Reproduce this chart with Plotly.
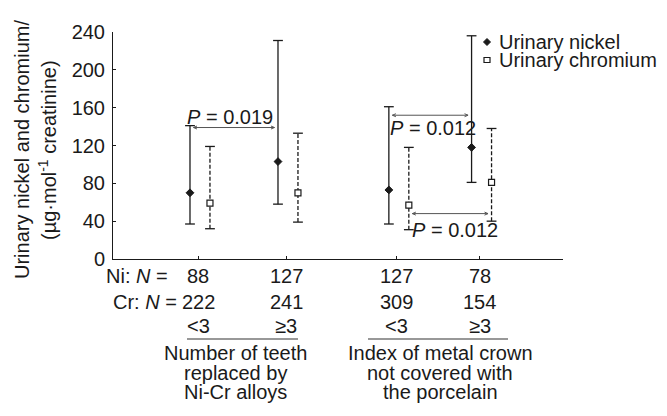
import plotly.graph_objects as go

# Group positions on the x axis (two groups of two categories)
positions = [1.0, 2.0, 3.26, 4.2]

# Urinary nickel: median, lower and upper whisker
ni_median = [70, 103, 73, 118]
ni_low = [37, 58, 37, 81]
ni_high = [141, 231, 161, 236]

# Urinary chromium: median, lower and upper whisker
cr_median = [59, 70, 57, 81]
cr_low = [32, 39, 31, 40]
cr_high = [119, 133, 118, 138]

# Sample sizes and category labels
ni_n = ["88", "127", "127", "78"]
cr_n = ["222", "241", "309", "154"]
cat_labels = ["&lt;3", "≥3", "&lt;3", "≥3"]
group_titles = [
    ["Number of teeth", "replaced by", "Ni-Cr alloys"],
    ["Index of metal crown", "not covered with", "the porcelain"],
]

# Pairwise comparisons: (series, index a, index b, bracket level, P text)
comparisons = [
    ("ni", 0, 1, 139, "0.019"),
    ("ni", 2, 3, 152, "0.012"),
    ("cr", 2, 3, 48, "0.012"),
]

FONT = "Liberation Sans, Arial, sans-serif"
FS = 20
INK = "#1a1a1a"
BRACKET = "#555"

# plot-area geometry (pixels)
L, R, T, B = 113, 104, 32, 157
W, H = 667, 416
PW, PH = W - L - R, H - T - B
X_RANGE = [0.034, 5.148]
NI_OFF, CR_OFF = -0.091, 0.136


def px_x(px):
    return (px - L) / PW


def px_y(py):
    return (H - B - py) / PH


ni_x = [p + NI_OFF for p in positions]
cr_x = [p + CR_OFF for p in positions]


def whisker_xy(xs, lo, hi):
    wx, wy = [], []
    for x, a, b in zip(xs, lo, hi):
        wx += [x, x, None]
        wy += [a, b, None]
    return wx, wy


fig = go.Figure()

# whiskers
for xs, lo, hi, dash in [(ni_x, ni_low, ni_high, "solid"),
                         (cr_x, cr_low, cr_high, "4px,2px")]:
    wx, wy = whisker_xy(xs, lo, hi)
    fig.add_trace(go.Scatter(x=wx, y=wy, mode="lines",
                             line=dict(color=INK, width=1.3, dash=dash),
                             showlegend=False, hoverinfo="skip"))
    fig.add_trace(go.Scatter(x=xs + xs, y=lo + hi, mode="markers",
                             marker=dict(symbol="line-ew", size=7,
                                         line=dict(color=INK, width=1.3)),
                             showlegend=False, hoverinfo="skip"))

# medians
fig.add_trace(go.Scatter(x=ni_x, y=ni_median, mode="markers", name="Urinary nickel",
                         marker=dict(symbol="diamond", size=6, color=INK,
                                     line=dict(color=INK, width=1)),
                         showlegend=False))
fig.add_trace(go.Scatter(x=cr_x, y=cr_median, mode="markers", name="Urinary chromium",
                         marker=dict(symbol="square", size=6, color="white",
                                     line=dict(color=INK, width=1.2)),
                         showlegend=False))

annotations = []
shapes = []

# comparison brackets (double-headed lines) and P values
series_x = {"ni": ni_x, "cr": cr_x}
p_label_pos = [(230, 116.7), (433, 128.3), (455, 230)]
for (s, a, b, level, ptxt), (tx, ty) in zip(comparisons, p_label_pos):
    xa = series_x[s][a] + 0.04
    xb = series_x[s][b] - 0.04
    shapes.append(dict(type="line", xref="x", yref="y", x0=xa, x1=xb,
                       y0=level, y1=level, line=dict(color=BRACKET, width=1)))
    for anchor, head in [(xa, "M 3.5,1.5 L 0,0 L 3.5,-1.5"),
                         (xb, "M -3.5,1.5 L 0,0 L -3.5,-1.5")]:
        shapes.append(dict(type="path", xref="x", yref="y", xsizemode="pixel",
                           ysizemode="pixel", xanchor=anchor, yanchor=level,
                           path=head, line=dict(color=BRACKET, width=1)))
    annotations.append(dict(x=px_x(tx), y=px_y(ty), xref="paper", yref="paper",
                            text=f"<i>P</i> = {ptxt}", showarrow=False,
                            xanchor="center", yanchor="middle",
                            font=dict(family=FONT, size=FS, color=INK)))

# rows under the x axis
row_y = [276, 301.7, 326]
for i, p in enumerate(positions):
    for txt, ry in zip([ni_n[i], cr_n[i], cat_labels[i]], row_y):
        annotations.append(dict(x=p, y=px_y(ry), xref="x", yref="paper",
                                text=txt, showarrow=False, xanchor="center",
                                yanchor="middle",
                                font=dict(family=FONT, size=FS, color=INK)))
annotations.append(dict(x=px_x(170), y=px_y(row_y[0]), xref="paper", yref="paper",
                        text="Ni: <i>N</i> =", showarrow=False, xanchor="right",
                        yanchor="middle", font=dict(family=FONT, size=FS, color=INK)))
annotations.append(dict(x=px_x(179), y=px_y(row_y[1]), xref="paper", yref="paper",
                        text="Cr: <i>N</i> =", showarrow=False, xanchor="right",
                        yanchor="middle", font=dict(family=FONT, size=FS, color=INK)))

# group underlines and titles
underline_px = [(187, 298), (368, 508)]
title_cx = [235, 440]
for (u0, u1), cx, lines in zip(underline_px, title_cx, group_titles):
    shapes.append(dict(type="line", xref="paper", yref="paper",
                       x0=px_x(u0), x1=px_x(u1), y0=px_y(339), y1=px_y(339),
                       line=dict(color="#333", width=1.2)))
    for ln, ly in zip(lines, [353, 373, 392]):
        annotations.append(dict(x=px_x(cx), y=px_y(ly), xref="paper", yref="paper",
                                text=ln, showarrow=False, xanchor="center",
                                yanchor="middle",
                                font=dict(family=FONT, size=FS, color=INK)))

# y-axis title (two lines)
for txt, tx in [("Urinary nickel and chromium/", 22),
                ("(µg·mol<sup>-1</sup> creatinine)", 47)]:
    annotations.append(dict(x=px_x(tx), y=px_y(150), xref="paper", yref="paper",
                            text=txt, textangle=-90, showarrow=False,
                            xanchor="center", yanchor="middle",
                            font=dict(family=FONT, size=FS, color=INK)))

# legend
leg_x = px_x(487)
for name, ly in [("Urinary nickel", 42), ("Urinary chromium", 60)]:
    annotations.append(dict(x=px_x(497), y=px_y(ly), xref="paper", yref="paper",
                            text=name, showarrow=False, xanchor="left",
                            yanchor="middle",
                            font=dict(family=FONT, size=FS, color=INK)))
shapes.append(dict(type="path", xref="paper", yref="paper", xsizemode="pixel",
                   ysizemode="pixel", xanchor=leg_x, yanchor=px_y(42),
                   path="M -3.5,0 L 0,3.5 L 3.5,0 L 0,-3.5 Z",
                   fillcolor=INK, line=dict(color=INK, width=1)))
shapes.append(dict(type="rect", xref="paper", yref="paper", xsizemode="pixel",
                   ysizemode="pixel", xanchor=leg_x, yanchor=px_y(60),
                   x0=-3, x1=3, y0=-2.5, y1=2.5,
                   fillcolor="white", line=dict(color=INK, width=1.2)))

fig.update_layout(
    width=W, height=H,
    margin=dict(l=L, r=R, t=T, b=B, pad=0),
    paper_bgcolor="white", plot_bgcolor="white",
    font=dict(family=FONT, size=FS, color=INK),
    showlegend=False,
    annotations=annotations,
    shapes=shapes,
    xaxis=dict(range=X_RANGE, tickvals=positions, showticklabels=False,
               ticks="inside", ticklen=3, tickcolor=INK, showline=True,
               linecolor=INK, linewidth=1, showgrid=False, zeroline=False,
               fixedrange=True),
    yaxis=dict(range=[0, 240], tickvals=list(range(0, 241, 40)),
               ticks="inside", ticklen=3, tickcolor=INK, showline=True,
               linecolor=INK, linewidth=1, showgrid=False, zeroline=False,
               ticklabelstandoff=3, fixedrange=True,
               tickfont=dict(family=FONT, size=FS, color=INK)),
)

fig.write_html("out.html")
